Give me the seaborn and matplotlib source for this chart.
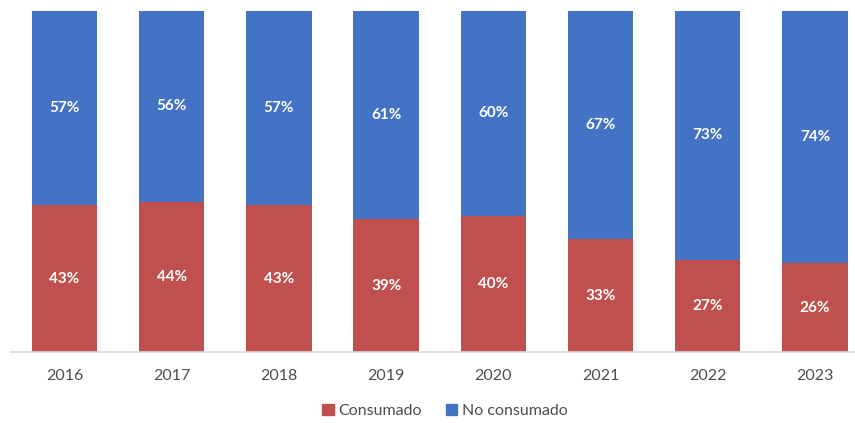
import matplotlib
matplotlib.use("Agg")
import matplotlib.pyplot as plt
import seaborn as sns
import pandas as pd
import numpy as np

years = ["2016", "2017", "2018", "2019", "2020", "2021", "2022", "2023"]
consumado = [43, 44, 43, 39, 40, 33, 27, 26]
no_consumado = [57, 56, 57, 61, 60, 67, 73, 74]

sns.set_theme(style="white")
plt.rcParams['font.family'] = ['Lato', 'DejaVu Sans']

red = "#C0504D"
blue = "#4472C4"

fig = plt.figure(figsize=(8.55, 4.23), dpi=100)
ax = fig.add_axes([11/855, 71/423, 1 - 11/855, 341/423])

df = pd.DataFrame({"year": years, "Consumado": consumado, "No consumado": no_consumado})
total = [c + n for c, n in zip(consumado, no_consumado)]
df["total"] = total

sns.barplot(data=df, x="year", y="total", color=blue, width=0.61, ax=ax,
            saturation=1, linewidth=0)
sns.barplot(data=df, x="year", y="Consumado", color=red, width=0.61, ax=ax,
            saturation=1, linewidth=0)
if ax.get_legend() is not None:
    ax.get_legend().remove()

for i, (c, n) in enumerate(zip(consumado, no_consumado)):
    ax.text(i, c / 2, f"{c}%", ha="center", va="center", color="white",
            fontsize=11, fontweight="bold")
    ax.text(i, c + n / 2, f"{n}%", ha="center", va="center", color="white",
            fontsize=11, fontweight="bold")

ax.set_xlim(-0.5, 7.374)
ax.set_ylim(0, 100)
ax.set_xlabel("")
ax.set_ylabel("")
ax.set_yticks([])
for s in ["top", "right", "left"]:
    ax.spines[s].set_visible(False)
ax.spines["bottom"].set_color("#D9D9D9")
ax.spines["bottom"].set_linewidth(1.2)
ax.tick_params(axis="x", length=0, pad=12, labelsize=11.5, labelcolor="#4D4D4D")

handles = [plt.Rectangle((0, 0), 1, 1, color=red), plt.Rectangle((0, 0), 1, 1, color=blue)]
fig.legend(handles, ["Consumado", "No consumado"], loc="center",
           bbox_to_anchor=(445/855, 1 - 411/423), ncol=2, frameon=False,
           fontsize=11.5, handlelength=0.7, handleheight=0.7, handletextpad=0.3,
           columnspacing=1.5, labelcolor="#4D4D4D")

fig.savefig("out.png", dpi=100)
